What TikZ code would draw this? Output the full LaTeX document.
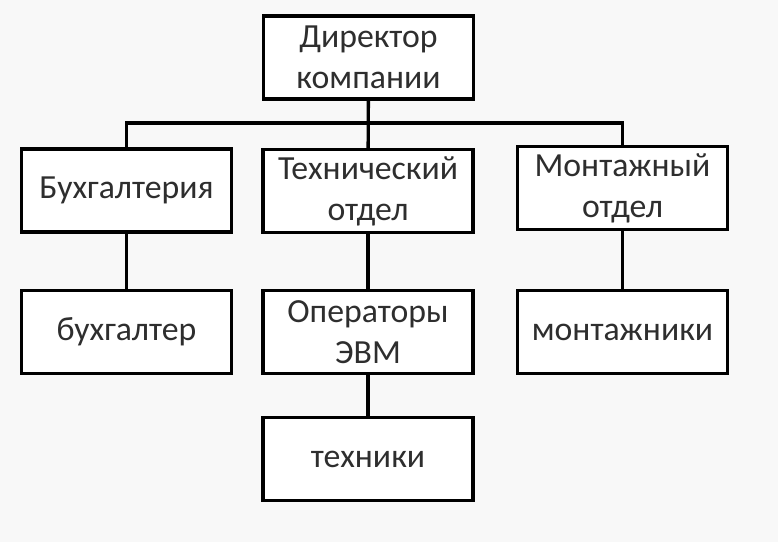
\documentclass[tikz,border=0pt]{standalone}
\usepackage{fontspec}
\setmainfont{Carlito}
\definecolor{bgcol}{HTML}{F8F8F8}
\definecolor{txtcol}{HTML}{2E2E2E}

\begin{document}
\begin{tikzpicture}[x=0.025cm,y=-0.025cm,
        unit/.style={draw=black,line width=2.4pt,fill=white,
            minimum width=5.25cm,minimum height=2.08cm,
            align=center,text=txtcol,inner sep=0pt,
            font=\fontsize{24}{29}\selectfont},
        link/.style={line width=2.4pt,line cap=rect}]
        \fill[bgcol] (0,0) rectangle (778,542);
        \useasboundingbox (0,0) rectangle (778,542);

        \coordinate (D)  at (368.5, 57.5);
        \coordinate (B1) at (126.5,190.5);
        \coordinate (T1) at (368.0,191.0);
        \coordinate (M1) at (622.5,188.0);
        \coordinate (B2) at (126.5,332.0);
        \coordinate (T2) at (368.0,332.0);
        \coordinate (M2) at (622.5,332.0);
        \coordinate (T3) at (368.0,459.0);

        \coordinate (busL) at (126.5,123.0);
        \coordinate (busR) at (622.5,123.0);

        \draw[link] (B1) -- (busL) -- (busR) -- (M1);
        \draw[link] (D) -- (T1);
        \draw[link] (B1) -- (B2);
        \draw[link] (T1) -- (T3);
        \draw[link] (M1) -- (M2);

        \node[unit] (dir)   at (D)  {Директор\\компании};
        \node[unit] (buh)   at (B1) {Бухгалтерия};
        \node[unit] (tech)  at (T1) {Технический\\отдел};
        \node[unit] (mont)  at (M1) {Монтажный\\отдел};
        \node[unit] (buhg)  at (B2) {бухгалтер};
        \node[unit] (oper)  at (T2) {Операторы\\ЭВМ};
        \node[unit] (montz) at (M2) {монтажники};
        \node[unit] (tehn)  at (T3) {техники};
    \end{tikzpicture}
\end{document}
